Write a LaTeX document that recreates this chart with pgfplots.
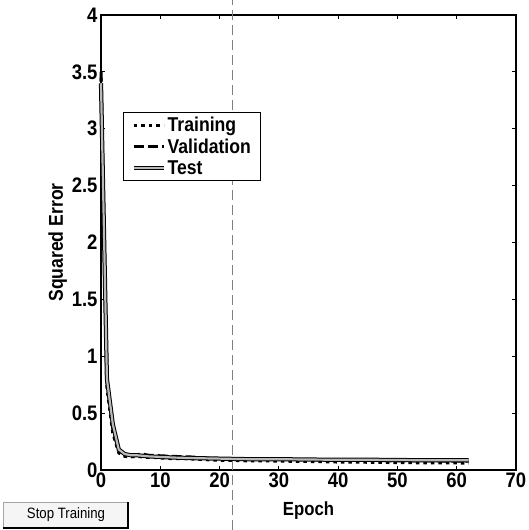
\documentclass[border=0pt]{standalone}
\usepackage{fontspec}
\setmainfont{Liberation Sans}[FakeStretch=0.88]
\usepackage{pgfplots}
\pgfplotsset{compat=1.18}
\begin{document}
\begin{tikzpicture}
\useasboundingbox (-101pt,-60pt) rectangle (427pt,470pt);
\begin{axis}[
  at={(0pt,0pt)}, anchor=south west,
  scale only axis, width=415pt, height=455pt,
  xmin=0, xmax=70, ymin=0, ymax=4,
  xtick={0,10,...,70}, ytick={0,0.5,...,4},
  clip=false,
  axis line style={line width=1.6pt},
  tick style={line width=1.2pt, black},
  major tick length=4pt, tick align=inside,
  /pgf/number format/assume math mode=true,
  ticklabel style={font=\fontsize{21}{24}\selectfont\bfseries},
  xticklabel style={yshift=1pt},
  xlabel={Epoch}, ylabel={Squared Error},
  xlabel style={font=\fontsize{19}{22}\selectfont\bfseries, yshift=-7pt},
  ylabel style={font=\fontsize{20}{23}\selectfont\bfseries, yshift=-2pt},
  legend style={at={(0.053,0.787)}, anchor=north west, draw=black,
    line width=1pt, font=\fontsize{20}{21}\selectfont\bfseries,
    inner xsep=8pt, inner ysep=3pt, row sep=1.5pt, fill=white,
    /tikz/every even column/.append style={column sep=12pt}},
  legend cell align=left,
  legend image code/.code={\draw[#1] (0pt,0pt) -- (30pt,0pt);},
]
\addplot[gray, line width=0.6pt, dash pattern=on 10pt off 5pt, forget plot]
  coordinates {(22.2,-0.53) (22.2,4.13)};
\addplot[black, line width=3pt, dash pattern=on 3.5pt off 4pt] coordinates {
(0,3.45) (1,0.72) (2,0.32) (3,0.15) (4,0.12) (5,0.115) (6,0.12) (7,0.115)
(8,0.11) (9,0.11) (10,0.105) (12,0.1) (14,0.1) (16,0.095) (18,0.09) (20,0.085)
(22,0.085) (25,0.08) (28,0.08) (30,0.078) (35,0.075) (40,0.07) (45,0.068)
(50,0.065) (55,0.063) (60,0.062) (62,0.06)};
\addlegendentry{Training}
\addplot[black, line width=3pt, dash pattern=on 10pt off 4pt] coordinates {
(0,3.5) (1,0.78) (2,0.36) (3,0.17) (4,0.14) (5,0.13) (6,0.135) (7,0.14)
(8,0.13) (10,0.125) (12,0.12) (15,0.115) (18,0.105) (20,0.1) (25,0.095)
(30,0.095) (35,0.09) (40,0.085) (45,0.085) (50,0.08) (55,0.08) (60,0.078) (62,0.078)};
\addlegendentry{Validation}
\addplot[black, line width=1pt, double=gray!55, double distance=2.2pt] coordinates {
(0,3.4) (1,0.8) (2,0.4) (3,0.18) (4,0.14) (5,0.13) (6,0.13) (7,0.125)
(8,0.12) (10,0.115) (12,0.11) (15,0.105) (20,0.1) (25,0.095) (30,0.095)
(35,0.092) (40,0.09) (45,0.09) (50,0.088) (55,0.085) (60,0.085) (62,0.085)};
\addlegendentry{Test}
\end{axis}
\fill[gray!8] (-98pt,-32pt) rectangle (27pt,-58pt);
\draw[gray!70, line width=0.8pt] (-98pt,-58pt) -- (-98pt,-32pt) -- (27pt,-32pt);
\draw[black, line width=1.5pt] (-98pt,-58pt) -- (27pt,-58pt) -- (27pt,-32pt);
\node[font=\fontsize{15}{17}\selectfont] at (-35pt,-45pt) {Stop Training};
\end{tikzpicture}
\end{document}
